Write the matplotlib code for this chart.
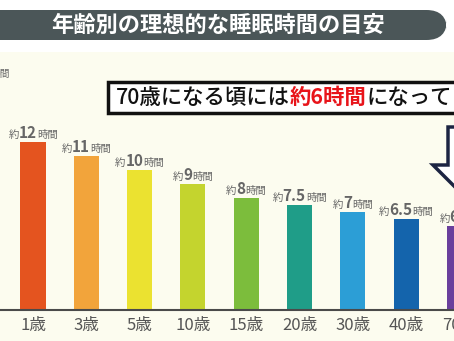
import matplotlib.pyplot as plt
from matplotlib.patches import FancyBboxPatch, Rectangle, Polygon
from matplotlib.offsetbox import TextArea, HPacker, AnnotationBbox

plt.rcParams['font.family'] = ['Noto Sans CJK JP', 'DejaVu Sans']

# data
ages = ["1歳", "3歳", "5歳", "10歳", "15歳", "20歳", "30歳", "40歳", "70歳"]
hours = [12, 11, 10, 9, 8, 7.5, 7, 6.5, 6]
hour_labels = ["12", "11", "10", "9", "8", "7.5", "7", "6.5", "6"]
colors = ["#e4541f", "#f2a43b", "#ebe230", "#c4d42e", "#7cbd3c",
          "#1f9d88", "#2c9ed6", "#1464ac", "#6a3f9c"]
title = "年齢別の理想的な睡眠時間の目安"
note_parts = [("70歳になる頃には", "#111111"), ("約6時間", "#e8141a"), ("になって", "#111111")]

W, H = 454, 341


def fx(x):
    return x / W


def fy(y):
    return 1 - y / H


fig = plt.figure(figsize=(W / 100, H / 100), dpi=100)
fig.patch.set_facecolor("white")

# cream background of the chart area
fig.patches.append(Rectangle((0, 0), 1, fy(52), transform=fig.transFigure,
                             facecolor="#fcfcef", edgecolor="none", zorder=-1))

# title banner
fig.patches.append(FancyBboxPatch((fx(-20), fy(40)), fx(467), 30 / H,
                                  boxstyle="round,pad=0,rounding_size=0.045",
                                  transform=fig.transFigure, mutation_aspect=W / H,
                                  facecolor="#4b5658", edgecolor="none", zorder=1))
fig.text(fx(218), fy(25), title, color="white", fontsize=16, fontweight="bold",
         ha="center", va="center", zorder=2)

# axes: bar spacing 53.3 px, first bar centre at 33 px, baseline at 310 px
step = 53.3
x0, x1 = -33 / step, 8.5
ax = fig.add_axes([0, fy(310), (x1 - x0) * step / W, 15 * 14 / H])
ax.set_zorder(1)
ax.set_facecolor("none")
ax.set_xlim(x0, x1)
ax.set_ylim(0, 15)

xs = list(range(len(ages)))
ax.bar(xs, hours, width=0.47, color=colors, zorder=2)

for s in ["top", "left", "right"]:
    ax.spines[s].set_visible(False)
ax.spines["bottom"].set_color("#4a4a4a")
ax.spines["bottom"].set_linewidth(1.5)
ax.set_yticks([])
ax.set_xticks(xs)
ax.set_xticklabels(ages, fontsize=12, color="#555555")
ax.tick_params(axis="x", length=0, pad=5)

# value labels: small 約 / big number / small 時間
for x, v, lab in zip(xs, hours, hour_labels):
    parts = [TextArea("約", textprops=dict(fontsize=7.5, color="#666666")),
             TextArea(lab, textprops=dict(fontsize=11, color="#666666", fontweight="bold")),
             TextArea("時間", textprops=dict(fontsize=7.5, color="#666666"))]
    box = HPacker(children=parts, align="baseline", pad=0, sep=0)
    ab = AnnotationBbox(box, (x, v), xybox=(0, 1), xycoords="data",
                        boxcoords="offset points", box_alignment=(0.5, 0),
                        frameon=False, annotation_clip=False)
    ax.add_artist(ab)

# y unit label, cut at the left edge
fig.text(fx(10), fy(74), "時間", fontsize=7, color="#666666", ha="right", va="center")

# note box
fig.patches.append(Rectangle((fx(108), fy(113)), fx(360), 31 / H, transform=fig.transFigure,
                             facecolor="white", edgecolor="#111111", linewidth=2.5, zorder=3))
parts = []
for txt, c in note_parts:
    parts.append(TextArea(txt, textprops=dict(fontsize=15.4, color=c,
                                              fontweight="bold" if c != "#111111" else "medium")))
note = HPacker(children=parts, align="baseline", pad=0, sep=0)
ab = AnnotationBbox(note, (fx(116), fy(97.5)), xycoords="figure fraction",
                    box_alignment=(0, 0.5), frameon=False, zorder=4)
fig.add_artist(ab)

# outlined down arrow, cut at the right edge
arrow_pts = [(448, 127), (492, 127), (492, 165), (507, 165), (470, 202), (433, 165), (448, 165)]
fig.patches.append(Polygon([(fx(a), fy(b)) for a, b in arrow_pts], closed=True,
                           transform=fig.transFigure, facecolor="white",
                           edgecolor="#1c2442", linewidth=2.5, zorder=3))

fig.savefig("out.png", dpi=100)
